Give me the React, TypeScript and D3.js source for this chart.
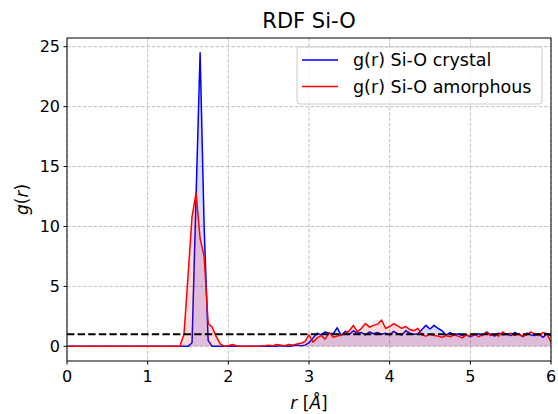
import React from 'react';
import * as d3 from 'd3';

const width = 558;
const height = 414;
const margin = { top: 38, right: 7, bottom: 53, left: 67 };

// bins of 0.05 Å from 0 to 6
const rStep = 0.05;

// g(r) Si-O crystal, one row per 0.5 Å
const gCrystal = [
  0, 0, 0, 0, 0, 0, 0, 0, 0, 0,
  0, 0, 0, 0, 0, 0, 0, 0, 0, 0,
  0, 0, 0, 0, 0, 0, 0, 0, 0, 0,
  0, 0.3, 12.5, 24.5, 10, 0.5, 0, 0, 0, 0,
  0, 0, 0, 0, 0, 0, 0, 0, 0, 0,
  0, 0.02, 0, 0.05, 0.03, 0, 0.05, 0.1, 0.05, 0.1,
  0.3, 0.7, 1.1, 0.95, 1.2, 1.1, 1.05, 1.55, 0.9, 1.25,
  1.0, 1.3, 1.1, 1.15, 0.95, 1.2, 1.05, 1.15, 1.0, 1.1,
  0.95, 1.25, 1.05, 0.95, 1.3, 1.1, 1.0, 1.05, 1.4, 1.75,
  1.45, 1.75, 1.5, 1.3, 0.95, 1.15, 0.95, 1.05, 0.9, 0.95,
  0.8, 0.95, 1.05, 0.9, 1.2, 1.0, 0.85, 1.1, 0.95, 1.05,
  0.9, 1.15, 1.0, 0.8, 1.1, 0.95, 0.9, 1.05, 0.75, 1.05,
  0.9,
];

// g(r) Si-O amorphous
const gAmorphous = [
  0, 0, 0, 0, 0, 0, 0, 0, 0, 0,
  0, 0, 0, 0, 0, 0, 0, 0, 0, 0,
  0, 0, 0, 0, 0, 0, 0, 0, 0, 1.0,
  5.8, 10.8, 12.8, 9.0, 7.5, 1.9, 1.6, 0.8, 0.2, 0,
  0.05, 0.15, 0.05, 0, 0, 0, 0, 0, 0.02, 0.05,
  0.1, 0.05, 0.15, 0.1, 0.05, 0.15, 0.1, 0.2, 0.25, 0.4,
  0.95, 0.35, 0.7, 0.9, 0.6, 1.15, 0.75, 0.85, 0.95, 1.1,
  1.3, 1.75, 1.2, 1.5, 1.9, 1.6, 1.75, 1.85, 2.2, 1.5,
  1.65, 1.9, 1.7, 1.5, 1.65, 1.4, 1.3, 1.5, 0.95, 0.85,
  1.0, 0.9, 0.85, 0.75, 0.9, 0.8, 0.95, 0.85, 0.7, 0.95,
  0.85, 1.05, 0.8, 0.95, 1.15, 0.9, 1.0, 0.85, 1.2, 0.95,
  1.1, 0.9, 1.05, 0.85, 0.95, 1.2, 1.0, 0.9, 1.15, 1.05,
  0.35,
];

const xTicks = [0, 1, 2, 3, 4, 5, 6];
const yTicks = [0, 5, 10, 15, 20, 25];
const legendLabels = ['g(r) Si-O crystal', 'g(r) Si-O amorphous'];
const colors = ['#0000ff', '#ff0000'];

const font = 'DejaVu Sans, sans-serif';

export default function App() {
  const x = d3.scaleLinear().domain([0, 6]).range([margin.left, width - margin.right]);
  const yMax = d3.max(gCrystal) as number;
  const y = d3.scaleLinear()
    .domain([-yMax * 0.05, yMax * 1.05])
    .range([height - margin.bottom, margin.top]);

  const series = [gCrystal, gAmorphous];

  const line = d3.line<number>()
    .x((d, i) => x(i * rStep))
    .y(d => y(d));
  const area = d3.area<number>()
    .x((d, i) => x(i * rStep))
    .y0(y(0))
    .y1(d => y(d));

  const left = margin.left;
  const right = width - margin.right;
  const top = margin.top;
  const bottom = height - margin.bottom;

  return (
    <svg width={width} height={height} style={{ position: 'absolute', left: 0, top: 0, background: '#fff' }}
      fontFamily={font}>
      <defs>
        <clipPath id="plot">
          <rect x={left} y={top} width={right - left} height={bottom - top} />
        </clipPath>
      </defs>

      {/* grid */}
      <g stroke="#b0b0b0" strokeWidth={0.8} strokeDasharray="3.5,1.8">
        {xTicks.map(t => <line key={'gx' + t} x1={x(t)} x2={x(t)} y1={top} y2={bottom} />)}
        {yTicks.map(t => <line key={'gy' + t} x1={left} x2={right} y1={y(t)} y2={y(t)} />)}
      </g>

      <g clipPath="url(#plot)">
        {series.map((s, i) => (
          <g key={i}>
            <path d={line(s) as string} fill="none" stroke={colors[i]} strokeWidth={1.5} strokeLinejoin="round" />
            <path d={area(s) as string} fill={colors[i]} fillOpacity={0.14} stroke="none" />
          </g>
        ))}
        <line x1={left} x2={right} y1={y(1)} y2={y(1)} stroke="#000" strokeWidth={2} strokeDasharray="7.4,3.2" />
      </g>

      {/* frame */}
      <rect x={left} y={top} width={right - left} height={bottom - top} fill="none" stroke="#000" strokeWidth={1} />

      {/* x axis */}
      {xTicks.map(t => (
        <g key={'xt' + t}>
          <line x1={x(t)} x2={x(t)} y1={bottom} y2={bottom + 3.5} stroke="#000" />
          <text x={x(t)} y={bottom + 21} textAnchor="middle" fontSize={16}>{t}</text>
        </g>
      ))}
      {yTicks.map(t => (
        <g key={'yt' + t}>
          <line x1={left - 3.5} x2={left} y1={y(t)} y2={y(t)} stroke="#000" />
          <text x={left - 7} y={y(t)} dy="0.36em" textAnchor="end" fontSize={16}>{t}</text>
        </g>
      ))}

      <text x={(left + right) / 2} y={409} textAnchor="middle" fontSize={17}>
        <tspan fontStyle="italic">r</tspan> [<tspan fontStyle="italic">Å</tspan>]
      </text>
      <text transform={`translate(28,${(top + bottom) / 2}) rotate(-90)`} textAnchor="middle" fontSize={17}>
        <tspan fontStyle="italic">g</tspan>(<tspan fontStyle="italic">r</tspan>)
      </text>

      <text x={(left + right) / 2} y={28} textAnchor="middle" fontSize={21}>RDF Si-O</text>

      {/* legend */}
      <g>
        <rect x={297} y={47} width={245} height={57} rx={3} fill="#fff" fillOpacity={0.8} stroke="#cccccc" />
        {legendLabels.map((lab, i) => (
          <g key={lab} transform={`translate(0,${60 + i * 26.5})`}>
            <line x1={302} x2={338} y1={0} y2={0} stroke={colors[i]} strokeWidth={1.5} />
            <text x={353} y={0} dy="0.36em" fontSize={17.5}>{lab}</text>
          </g>
        ))}
      </g>
    </svg>
  );
}
